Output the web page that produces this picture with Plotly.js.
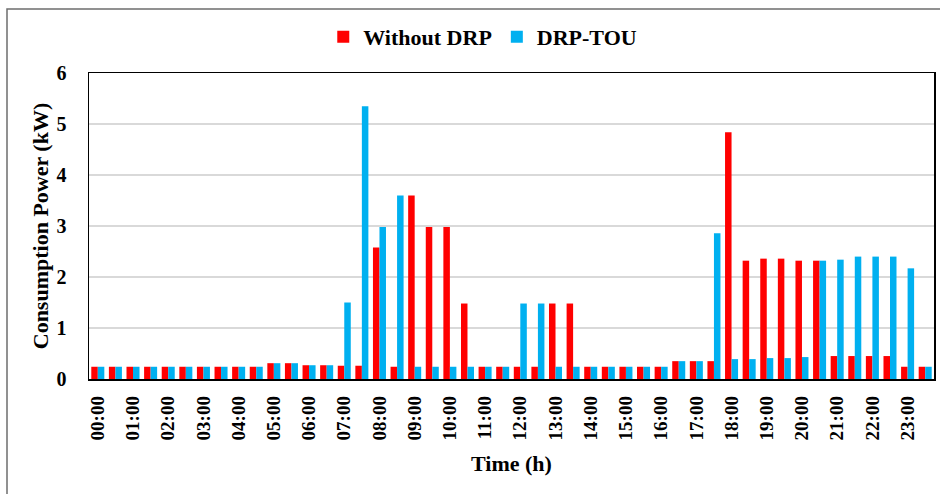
<!DOCTYPE html>
<html>
<head>
<meta charset="utf-8">
<script src="https://cdn.plot.ly/plotly-3.0.1.min.js"></script>
<style>html,body{margin:0;padding:0;background:#fff;}#chart{width:940px;height:494px;}</style>
</head>
<body>
<div id="chart"></div>
<script>
// Half-hour time slots
const timeSlots = [
  "00:00","00:30","01:00","01:30","02:00","02:30","03:00","03:30",
  "04:00","04:30","05:00","05:30","06:00","06:30","07:00","07:30",
  "08:00","08:30","09:00","09:30","10:00","10:30","11:00","11:30",
  "12:00","12:30","13:00","13:30","14:00","14:30","15:00","15:30",
  "16:00","16:30","17:00","17:30","18:00","18:30","19:00","19:30",
  "20:00","20:30","21:00","21:30","22:00","22:30","23:00","23:30"
];
const hourLabels = [
  "00:00","01:00","02:00","03:00","04:00","05:00","06:00","07:00",
  "08:00","09:00","10:00","11:00","12:00","13:00","14:00","15:00",
  "16:00","17:00","18:00","19:00","20:00","21:00","22:00","23:00"
];
const withoutDRP = [
  0.24,0.24,0.24,0.24,0.24,0.24,0.24,0.24,
  0.24,0.24,0.31,0.31,0.27,0.27,0.26,0.26,
  2.58,0.24,3.60,2.98,2.98,1.48,0.24,0.24,
  0.24,0.24,1.48,1.48,0.24,0.24,0.24,0.24,
  0.24,0.35,0.35,0.35,4.84,2.32,2.36,2.36,
  2.32,2.32,0.45,0.45,0.45,0.45,0.24,0.24
];
const drpTOU = [
  0.24,0.24,0.24,0.24,0.24,0.24,0.24,0.24,
  0.24,0.24,0.31,0.31,0.27,0.27,1.50,5.35,
  2.98,3.60,0.24,0.24,0.24,0.24,0.24,0.24,
  1.48,1.48,0.24,0.24,0.24,0.24,0.24,0.24,
  0.24,0.35,0.35,2.86,0.39,0.39,0.41,0.41,
  0.43,2.32,2.34,2.40,2.40,2.40,2.17,0.24
];

const FONT = "'Liberation Serif', 'Times New Roman', serif";

const traces = [
  {type:'bar', name:'Without DRP', x:timeSlots, y:withoutDRP,
   marker:{color:'#FF0000', line:{width:0}}},
  {type:'bar', name:'DRP-TOU', x:timeSlots, y:drpTOU,
   marker:{color:'#00B0F0', line:{width:0}}}
];

const layout = {
  width:940, height:494,
  margin:{l:89, r:6, t:73, b:115, pad:0, autoexpand:false},
  paper_bgcolor:'#ffffff', plot_bgcolor:'#ffffff',
  font:{family:FONT, color:'#000', size:20, weight:'bold'},
  barmode:'group', bargap:0.26, bargroupgap:0,
  showlegend:true,
  legend:{orientation:'h', x:0.466, xanchor:'center', y:1.118, yanchor:'middle',
          font:{family:FONT, size:22, weight:'bold', color:'#000'},
          itemwidth:30, traceorder:'normal', bgcolor:'rgba(0,0,0,0)'},
  xaxis:{type:'category', tickmode:'array', tickvals:hourLabels, ticktext:hourLabels,
         tickangle:-90, tickfont:{family:FONT, size:19, weight:'bold', color:'#000'},
         showline:true, linecolor:'#000', linewidth:1.5, mirror:true,
         ticks:'outside', ticklen:8, tickcolor:'rgba(0,0,0,0)',
         showgrid:false, zeroline:false, automargin:false,
         title:{text:'Time (h)', font:{family:FONT, size:22, weight:'bold', color:'#000'}, standoff:16}},
  yaxis:{range:[0,6], dtick:1, tick0:0,
         tickfont:{family:FONT, size:20, weight:'bold', color:'#000'},
         showline:true, linecolor:'#000', linewidth:1.5, mirror:true,
         ticks:'outside', ticklen:17, tickcolor:'rgba(0,0,0,0)',
         showgrid:true, gridcolor:'#d9d9d9', gridwidth:1.3, zeroline:false, automargin:false,
         title:{text:'Consumption Power (kW)', font:{family:FONT, size:22, weight:'bold', color:'#000'}, standoff:2}},
  shapes:[
    {type:'rect', xref:'paper', yref:'paper',
     x0:(7-89)/845, x1:(960-89)/845, y0:(379-520)/306, y1:(379-9)/306,
     line:{color:'#6e6e6e', width:1.5}, fillcolor:'rgba(0,0,0,0)', layer:'below'}
  ]
};

Plotly.newPlot('chart', traces, layout, {displayModeBar:false, staticPlot:true});
</script>
</body>
</html>
